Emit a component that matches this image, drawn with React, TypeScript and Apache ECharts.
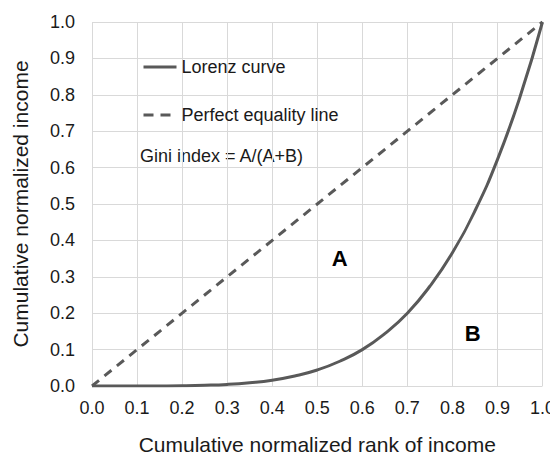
import React, { useEffect, useRef } from "react";
import * as echarts from "echarts";

const rank = [0, 0.05, 0.1, 0.15, 0.2, 0.25, 0.3, 0.35, 0.4, 0.45, 0.5, 0.55, 0.6, 0.65, 0.7, 0.75, 0.8, 0.85, 0.9, 0.95, 1.0];
const lorenzIncome = [0, 0, 0, 0.0002, 0.0007, 0.002, 0.0044, 0.009, 0.016, 0.0275, 0.044, 0.068, 0.1, 0.144, 0.2, 0.274, 0.366, 0.481, 0.622, 0.794, 1.0];
const equalityRank = [0, 1];
const equalityIncome = [0, 1];
const legendNames = ["Lorenz curve", "Perfect equality line"];
const giniText = "Gini index = A/(A+B)";
const regionLabels = [
  { name: "A", x: 0.55, y: 0.35 },
  { name: "B", x: 0.845, y: 0.145 },
];

const FONT = "Liberation Sans, Arial, sans-serif";
const LINE = "#595959";
const TEXT = "#1a1a1a";

export default function App() {
  const ref = useRef<HTMLDivElement>(null);
  useEffect(() => {
    if (!ref.current) return;
    const chart = echarts.init(ref.current, undefined, { renderer: "svg" });
    const legendBase = {
      show: true,
      left: 142,
      padding: 0,
      itemWidth: 33,
      itemHeight: 14,
      itemStyle: { opacity: 0 },
      textStyle: { fontSize: 18, color: TEXT, fontFamily: FONT },
    };
    const option: any = {
      animation: false,
      textStyle: { fontFamily: FONT },
      grid: { left: 92, right: 14, top: 22, bottom: 72 },
      xAxis: {
        type: "value",
        min: 0,
        max: 1,
        interval: 0.1,
        name: "Cumulative normalized rank of income",
        nameLocation: "middle",
        nameGap: 48,
        nameTextStyle: { fontSize: 21, color: TEXT, fontFamily: FONT },
        axisLine: { show: false },
        axisTick: { show: false },
        axisLabel: {
          fontSize: 18,
          color: TEXT,
          margin: 13,
          fontFamily: FONT,
          formatter: (v: number) => v.toFixed(1),
        },
        splitLine: { show: true, lineStyle: { color: "#d9d9d9", width: 1 } },
      },
      yAxis: {
        type: "value",
        min: 0,
        max: 1,
        interval: 0.1,
        name: "Cumulative normalized income",
        nameLocation: "middle",
        nameGap: 61,
        nameTextStyle: { fontSize: 21, color: TEXT, fontFamily: FONT },
        axisLine: { show: false },
        axisTick: { show: false },
        axisLabel: {
          fontSize: 18,
          color: TEXT,
          margin: 17,
          fontFamily: FONT,
          formatter: (v: number) => v.toFixed(1),
        },
        splitLine: { show: true, lineStyle: { color: "#d9d9d9", width: 1 } },
      },
      legend: [
        { ...legendBase, top: 58, lineStyle: { width: 3 }, data: [legendNames[0]] },
        { ...legendBase, top: 106, lineStyle: { width: 3, type: [10, 7] }, data: [legendNames[1]] },
      ],
      graphic: [
        {
          type: "text",
          left: 140,
          top: 147,
          style: { text: giniText, fontSize: 18, fill: TEXT, fontFamily: FONT },
        },
      ],
      series: [
        {
          name: legendNames[0],
          type: "line",
          smooth: true,
          showSymbol: false,
          symbol: "none",
          data: rank.map((x, i) => [x, lorenzIncome[i]]),
          lineStyle: { color: LINE, width: 3 },
          itemStyle: { color: LINE },
          markPoint: {
            symbol: "circle",
            symbolSize: 0,
            label: {
              show: true,
              fontSize: 22,
              fontWeight: "bold",
              color: "#000",
              fontFamily: FONT,
              formatter: (p: any) => p.name,
            },
            data: regionLabels.map((r) => ({ name: r.name, coord: [r.x, r.y] })),
          },
        },
        {
          name: legendNames[1],
          type: "line",
          showSymbol: false,
          symbol: "none",
          data: equalityRank.map((x, i) => [x, equalityIncome[i]]),
          lineStyle: { color: LINE, width: 3, type: [9, 7] },
          itemStyle: { color: LINE },
        },
      ],
    };
    chart.setOption(option);
    return () => chart.dispose();
  }, []);
  return <div ref={ref} style={{ width: 558, height: 460, marginLeft: -8, marginTop: -8 }} />;
}
